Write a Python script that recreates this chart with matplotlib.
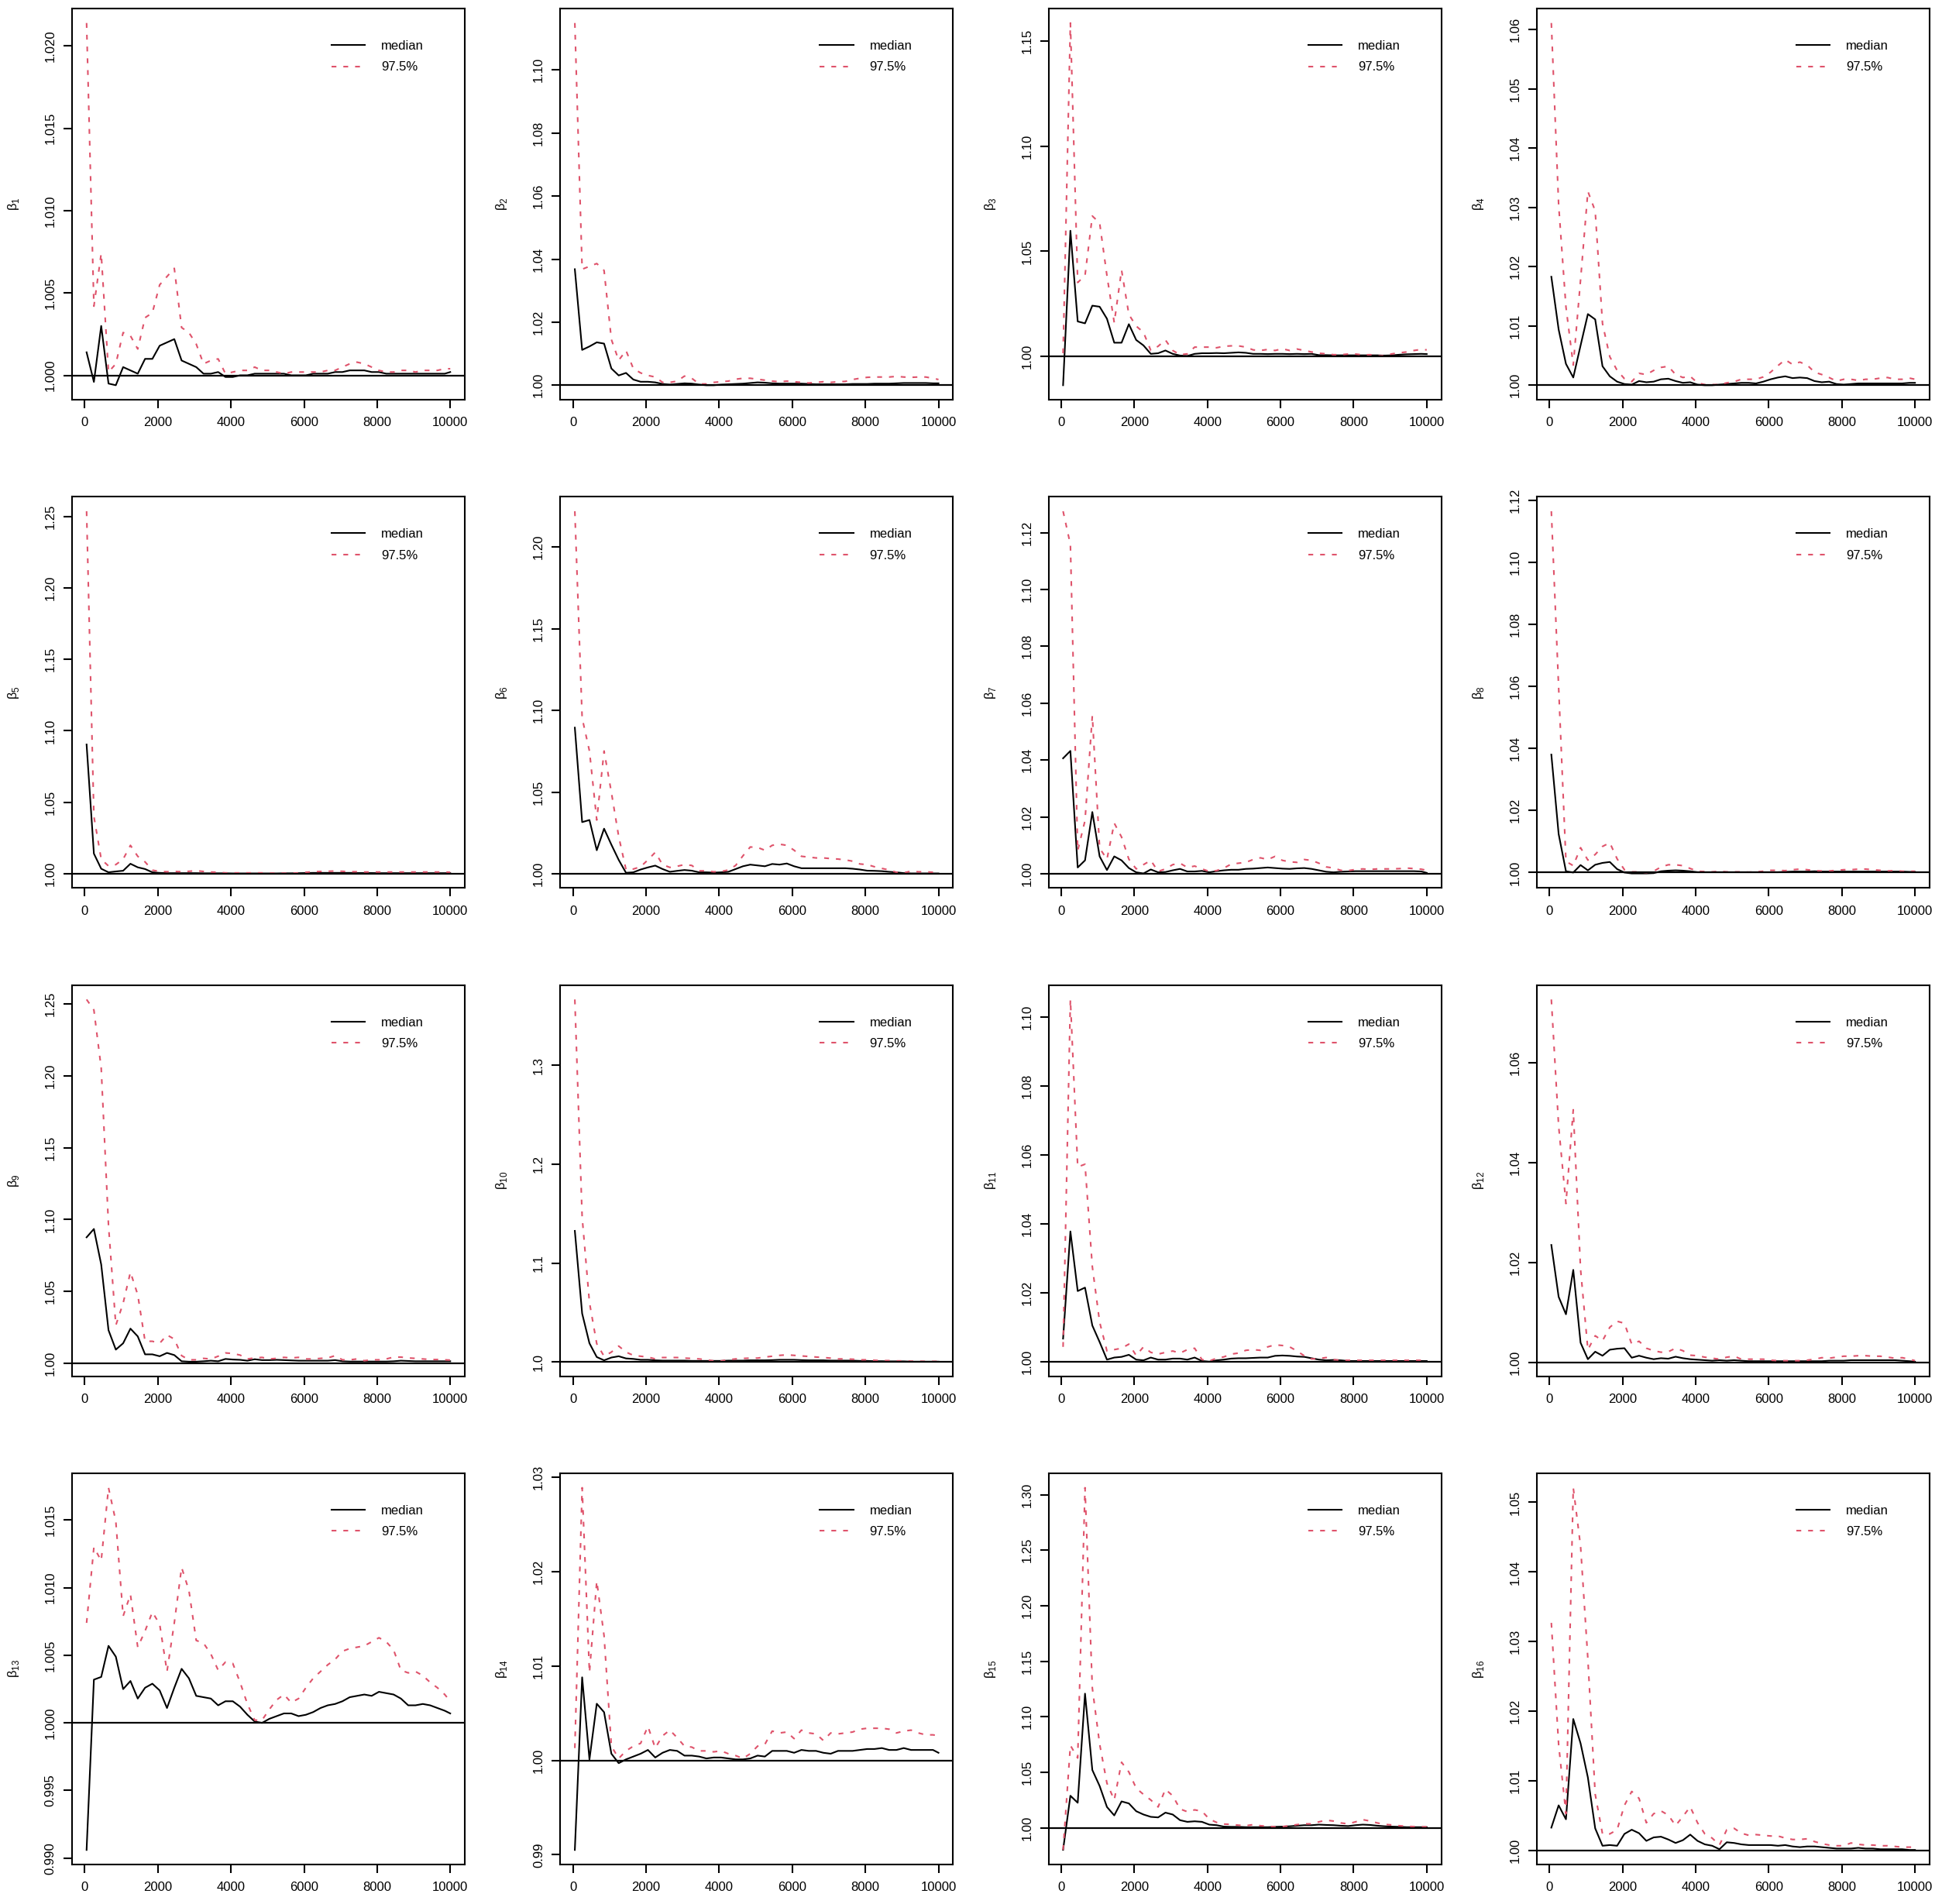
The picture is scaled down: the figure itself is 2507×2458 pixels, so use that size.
import numpy as np
import matplotlib
matplotlib.use("Agg")
import matplotlib.pyplot as plt

plt.rcParams['font.family'] = ['Liberation Sans', 'DejaVu Sans']
plt.rcParams['mathtext.fontset'] = 'custom'
plt.rcParams['mathtext.rm'] = 'Liberation Sans'

RED = "#DF536B"

# iteration grid (end of each bin)
iters = np.append(np.arange(50, 10000, 200), 10000)

# --- shrink factors: median and 97.5% per parameter ---
med_b1 = [1.0014, 0.9996, 1.0030, 0.9995, 0.9994, 1.0005, 1.0003, 1.0001, 1.0010, 1.0010,
          1.0018, 1.0020, 1.0022, 1.0009, 1.0007, 1.0005, 1.0001, 1.0001, 1.0002, 0.9999,
          0.9999, 1.0000, 1.0000, 1.0001, 1.0001, 1.0001, 1.0001, 1.0001, 1.0000, 1.0000,
          1.0000, 1.0001, 1.0001, 1.0001, 1.0002, 1.0002, 1.0003, 1.0003, 1.0003, 1.0002,
          1.0002, 1.0001, 1.0001, 1.0001, 1.0001, 1.0001, 1.0001, 1.0001, 1.0001, 1.0001, 1.0002]
q975_b1 = [1.0214, 1.0042, 1.0074, 1.0002, 1.0007, 1.0026, 1.0024, 1.0016, 1.0035, 1.0038,
           1.0055, 1.0060, 1.0065, 1.0029, 1.0026, 1.0019, 1.0007, 1.0009, 1.0010, 1.0001,
           1.0002, 1.0003, 1.0003, 1.0005, 1.0003, 1.0003, 1.0002, 1.0001, 1.0002, 1.0002,
           1.0002, 1.0002, 1.0002, 1.0003, 1.0003, 1.0005, 1.0007, 1.0008, 1.0007, 1.0005,
           1.0003, 1.0002, 1.0002, 1.0003, 1.0003, 1.0002, 1.0003, 1.0003, 1.0003, 1.0004, 1.0004]

med_b2 = [1.0368, 1.0112, 1.0123, 1.0136, 1.0132, 1.0053, 1.0031, 1.0039, 1.0018, 1.0011,
          1.0011, 1.0009, 1.0004, 1.0002, 1.0004, 1.0006, 1.0005, 1.0002, 1.0000, 1.0000,
          1.0002, 1.0003, 1.0004, 1.0005, 1.0007, 1.0009, 1.0008, 1.0006, 1.0005, 1.0005,
          1.0005, 1.0005, 1.0004, 1.0003, 1.0003, 1.0003, 1.0003, 1.0003, 1.0004, 1.0004,
          1.0004, 1.0005, 1.0005, 1.0005, 1.0006, 1.0007, 1.0007, 1.0007, 1.0007, 1.0006, 1.0006]
q975_b2 = [1.1149, 1.0368, 1.0377, 1.0386, 1.0364, 1.0145, 1.0079, 1.0110, 1.0053, 1.0039,
           1.0031, 1.0026, 1.0009, 1.0009, 1.0013, 1.0029, 1.0022, 1.0004, 1.0004, 1.0009,
           1.0011, 1.0013, 1.0019, 1.0022, 1.0022, 1.0019, 1.0016, 1.0013, 1.0011, 1.0013,
           1.0011, 1.0009, 1.0007, 1.0009, 1.0011, 1.0009, 1.0011, 1.0012, 1.0018, 1.0022,
           1.0025, 1.0026, 1.0026, 1.0026, 1.0028, 1.0026, 1.0025, 1.0026, 1.0026, 1.0022, 1.0018]

med_b3 = [0.9864, 1.0598, 1.0167, 1.0158, 1.0242, 1.0237, 1.0180, 1.0066, 1.0066, 1.0154,
          1.0079, 1.0053, 1.0013, 1.0016, 1.0029, 1.0013, 1.0005, 1.0003, 1.0013, 1.0016,
          1.0016, 1.0017, 1.0016, 1.0018, 1.0020, 1.0018, 1.0013, 1.0013, 1.0012, 1.0013,
          1.0013, 1.0012, 1.0013, 1.0012, 1.0013, 1.0007, 1.0007, 1.0006, 1.0006, 1.0006,
          1.0006, 1.0006, 1.0006, 1.0006, 1.0005, 1.0006, 1.0009, 1.0011, 1.0012, 1.0013, 1.0012]
q975_b3 = [1.0016, 1.1585, 1.0352, 1.0385, 1.0668, 1.0635, 1.0385, 1.0161, 1.0411, 1.0200,
           1.0145, 1.0115, 1.0029, 1.0049, 1.0079, 1.0029, 1.0009, 1.0013, 1.0045, 1.0045,
           1.0045, 1.0042, 1.0049, 1.0051, 1.0051, 1.0045, 1.0032, 1.0029, 1.0034, 1.0029,
           1.0037, 1.0029, 1.0036, 1.0029, 1.0022, 1.0016, 1.0013, 1.0009, 1.0009, 1.0012,
           1.0012, 1.0008, 1.0009, 1.0003, 1.0005, 1.0013, 1.0018, 1.0022, 1.0029, 1.0034, 1.0032]

med_b4 = [1.0183, 1.0094, 1.0036, 1.0013, 1.0067, 1.0120, 1.0111, 1.0032, 1.0015, 1.0006,
          1.0002, 1.0001, 1.0007, 1.0005, 1.0006, 1.0010, 1.0011, 1.0007, 1.0004, 1.0005,
          1.0001, 1.0000, 1.0000, 1.0001, 1.0002, 1.0003, 1.0004, 1.0004, 1.0003, 1.0006,
          1.0010, 1.0013, 1.0015, 1.0012, 1.0013, 1.0012, 1.0007, 1.0005, 1.0006, 1.0002,
          1.0001, 1.0002, 1.0003, 1.0003, 1.0003, 1.0003, 1.0003, 1.0003, 1.0003, 1.0004, 1.0004]
q975_b4 = [1.0611, 1.0304, 1.0132, 1.0034, 1.0178, 1.0327, 1.0294, 1.0104, 1.0048, 1.0025,
           1.0011, 1.0006, 1.0020, 1.0018, 1.0025, 1.0030, 1.0032, 1.0018, 1.0013, 1.0015,
           1.0004, 1.0001, 1.0001, 1.0001, 1.0004, 1.0006, 1.0010, 1.0010, 1.0010, 1.0014,
           1.0022, 1.0033, 1.0043, 1.0035, 1.0039, 1.0034, 1.0022, 1.0018, 1.0013, 1.0007,
           1.0010, 1.0010, 1.0008, 1.0010, 1.0010, 1.0012, 1.0013, 1.0010, 1.0010, 1.0012, 1.0010]

med_b5 = [1.0904, 1.0139, 1.0033, 1.0008, 1.0014, 1.0019, 1.0068, 1.0043, 1.0031, 1.0008,
          1.0004, 1.0002, 1.0002, 1.0002, 1.0002, 1.0002, 1.0001, 1.0001, 1.0001, 1.0001,
          1.0000, 1.0000, 1.0000, 1.0000, 1.0000, 1.0000, 1.0000, 1.0001, 1.0001, 1.0002,
          1.0003, 1.0004, 1.0004, 1.0004, 1.0004, 1.0004, 1.0004, 1.0003, 1.0003, 1.0003,
          1.0002, 1.0002, 1.0002, 1.0002, 1.0002, 1.0002, 1.0002, 1.0002, 1.0002, 1.0002, 1.0002]
q975_b5 = [1.2539, 1.0400, 1.0100, 1.0052, 1.0062, 1.0100, 1.0197, 1.0120, 1.0081, 1.0023,
           1.0014, 1.0012, 1.0014, 1.0012, 1.0015, 1.0019, 1.0014, 1.0010, 1.0008, 1.0004,
           1.0004, 1.0004, 1.0004, 1.0004, 1.0004, 1.0002, 1.0002, 1.0002, 1.0002, 1.0004,
           1.0008, 1.0012, 1.0014, 1.0015, 1.0017, 1.0015, 1.0012, 1.0012, 1.0010, 1.0010,
           1.0010, 1.0010, 1.0010, 1.0010, 1.0010, 1.0010, 1.0010, 1.0010, 1.0010, 1.0010, 1.0008]

med_b6 = [1.0895, 1.0317, 1.0330, 1.0145, 1.0277, 1.0179, 1.0086, 1.0007, 1.0010, 1.0027,
          1.0040, 1.0051, 1.0030, 1.0013, 1.0019, 1.0024, 1.0020, 1.0010, 1.0010, 1.0008,
          1.0010, 1.0013, 1.0030, 1.0047, 1.0057, 1.0052, 1.0047, 1.0061, 1.0057, 1.0064,
          1.0047, 1.0035, 1.0035, 1.0035, 1.0035, 1.0035, 1.0035, 1.0035, 1.0032, 1.0027,
          1.0020, 1.0019, 1.0017, 1.0013, 1.0010, 1.0005, 1.0003, 1.0003, 1.0003, 1.0003, 1.0003]
q975_b6 = [1.2219, 1.0954, 1.0752, 1.0330, 1.0752, 1.0499, 1.0229, 1.0027, 1.0030, 1.0044,
           1.0086, 1.0132, 1.0057, 1.0040, 1.0047, 1.0057, 1.0052, 1.0019, 1.0019, 1.0013,
           1.0015, 1.0024, 1.0052, 1.0111, 1.0165, 1.0162, 1.0145, 1.0175, 1.0182, 1.0175,
           1.0145, 1.0108, 1.0103, 1.0098, 1.0098, 1.0094, 1.0091, 1.0086, 1.0078, 1.0061,
           1.0057, 1.0044, 1.0034, 1.0024, 1.0010, 1.0007, 1.0017, 1.0013, 1.0013, 1.0010, 1.0007]

med_b7 = [1.0406, 1.0432, 1.0022, 1.0047, 1.0217, 1.0061, 1.0013, 1.0061, 1.0047, 1.0020,
          1.0005, 1.0001, 1.0015, 1.0005, 1.0006, 1.0012, 1.0017, 1.0008, 1.0008, 1.0010,
          1.0005, 1.0009, 1.0012, 1.0014, 1.0014, 1.0017, 1.0018, 1.0020, 1.0022, 1.0020,
          1.0018, 1.0017, 1.0019, 1.0020, 1.0017, 1.0012, 1.0007, 1.0005, 1.0007, 1.0008,
          1.0009, 1.0009, 1.0009, 1.0009, 1.0009, 1.0009, 1.0009, 1.0009, 1.0009, 1.0008, 1.0003]
q975_b7 = [1.1275, 1.1158, 1.0081, 1.0187, 1.0556, 1.0090, 1.0051, 1.0178, 1.0129, 1.0051,
           1.0017, 1.0032, 1.0047, 1.0008, 1.0017, 1.0032, 1.0037, 1.0022, 1.0027, 1.0017,
           1.0008, 1.0011, 1.0020, 1.0034, 1.0037, 1.0040, 1.0050, 1.0056, 1.0050, 1.0061,
           1.0047, 1.0042, 1.0040, 1.0050, 1.0047, 1.0037, 1.0024, 1.0020, 1.0012, 1.0011,
           1.0015, 1.0017, 1.0015, 1.0017, 1.0017, 1.0017, 1.0018, 1.0020, 1.0018, 1.0016, 1.0012]

med_b8 = [1.0380, 1.0124, 1.0004, 1.0000, 1.0024, 1.0007, 1.0025, 1.0031, 1.0034, 1.0011,
          1.0000, 0.9997, 0.9997, 0.9997, 0.9998, 1.0004, 1.0006, 1.0007, 1.0006, 1.0004,
          1.0001, 1.0001, 1.0001, 1.0001, 1.0001, 1.0001, 1.0001, 1.0001, 1.0001, 1.0001,
          1.0001, 1.0001, 1.0002, 1.0003, 1.0003, 1.0003, 1.0004, 1.0003, 1.0003, 1.0003,
          1.0003, 1.0003, 1.0003, 1.0003, 1.0003, 1.0003, 1.0003, 1.0003, 1.0003, 1.0002, 1.0002]
q975_b8 = [1.1164, 1.0596, 1.0036, 1.0022, 1.0080, 1.0040, 1.0058, 1.0084, 1.0096, 1.0044,
           1.0009, 1.0002, 1.0002, 1.0000, 1.0004, 1.0018, 1.0025, 1.0025, 1.0022, 1.0013,
           1.0004, 1.0003, 1.0002, 1.0004, 1.0002, 1.0002, 1.0002, 1.0001, 1.0002, 1.0004,
           1.0007, 1.0007, 1.0006, 1.0009, 1.0011, 1.0009, 1.0006, 1.0005, 1.0005, 1.0007,
           1.0009, 1.0009, 1.0011, 1.0011, 1.0009, 1.0007, 1.0005, 1.0006, 1.0004, 1.0004, 1.0004]

med_b9 = [1.0877, 1.0935, 1.0688, 1.0231, 1.0096, 1.0140, 1.0242, 1.0188, 1.0063, 1.0063,
          1.0050, 1.0073, 1.0058, 1.0015, 1.0012, 1.0012, 1.0015, 1.0019, 1.0015, 1.0031,
          1.0027, 1.0025, 1.0019, 1.0029, 1.0023, 1.0023, 1.0025, 1.0023, 1.0021, 1.0019,
          1.0019, 1.0019, 1.0019, 1.0019, 1.0023, 1.0015, 1.0013, 1.0013, 1.0013, 1.0013,
          1.0013, 1.0013, 1.0015, 1.0019, 1.0017, 1.0015, 1.0015, 1.0015, 1.0015, 1.0015, 1.0015]
q975_b9 = [1.2531, 1.2458, 1.2054, 1.0958, 1.0265, 1.0419, 1.0635, 1.0477, 1.0154, 1.0154,
           1.0140, 1.0198, 1.0169, 1.0054, 1.0025, 1.0025, 1.0035, 1.0031, 1.0050, 1.0073,
           1.0069, 1.0058, 1.0031, 1.0038, 1.0042, 1.0031, 1.0035, 1.0042, 1.0038, 1.0042,
           1.0031, 1.0031, 1.0035, 1.0038, 1.0054, 1.0025, 1.0025, 1.0031, 1.0019, 1.0025,
           1.0025, 1.0031, 1.0044, 1.0044, 1.0038, 1.0035, 1.0031, 1.0027, 1.0027, 1.0025, 1.0023]

med_b10 = [1.1325, 1.0490, 1.0189, 1.0050, 1.0017, 1.0045, 1.0058, 1.0036, 1.0031, 1.0022,
           1.0022, 1.0017, 1.0014, 1.0014, 1.0014, 1.0014, 1.0011, 1.0011, 1.0011, 1.0011,
           1.0011, 1.0014, 1.0014, 1.0014, 1.0017, 1.0017, 1.0017, 1.0019, 1.0022, 1.0022,
           1.0022, 1.0019, 1.0017, 1.0017, 1.0017, 1.0014, 1.0014, 1.0014, 1.0014, 1.0011,
           1.0011, 1.0008, 1.0008, 1.0006, 1.0006, 1.0006, 1.0003, 1.0003, 1.0003, 1.0003, 1.0003]
q975_b10 = [1.3663, 1.1464, 1.0601, 1.0184, 1.0058, 1.0100, 1.0161, 1.0100, 1.0067, 1.0058,
            1.0050, 1.0031, 1.0045, 1.0045, 1.0045, 1.0039, 1.0036, 1.0031, 1.0022, 1.0011,
            1.0011, 1.0022, 1.0031, 1.0036, 1.0039, 1.0039, 1.0050, 1.0058, 1.0067, 1.0072,
            1.0067, 1.0061, 1.0056, 1.0050, 1.0045, 1.0039, 1.0031, 1.0031, 1.0028, 1.0022,
            1.0022, 1.0017, 1.0014, 1.0014, 1.0011, 1.0011, 1.0008, 1.0008, 1.0006, 1.0006, 1.0006]

med_b11 = [1.0067, 1.0378, 1.0205, 1.0215, 1.0105, 1.0057, 1.0006, 1.0012, 1.0014, 1.0020,
           1.0006, 1.0004, 1.0012, 1.0006, 1.0006, 1.0009, 1.0009, 1.0006, 1.0012, 1.0002,
           1.0000, 1.0004, 1.0006, 1.0009, 1.0010, 1.0010, 1.0011, 1.0012, 1.0012, 1.0017,
           1.0018, 1.0017, 1.0015, 1.0014, 1.0010, 1.0006, 1.0004, 1.0005, 1.0004, 1.0002,
           1.0002, 1.0002, 1.0002, 1.0002, 1.0002, 1.0002, 1.0002, 1.0002, 1.0002, 1.0002, 1.0002]
q975_b11 = [1.0043, 1.1051, 1.0565, 1.0573, 1.0276, 1.0115, 1.0031, 1.0035, 1.0039, 1.0051,
            1.0018, 1.0043, 1.0027, 1.0022, 1.0027, 1.0031, 1.0025, 1.0035, 1.0039, 1.0006,
            1.0002, 1.0010, 1.0014, 1.0022, 1.0025, 1.0033, 1.0035, 1.0033, 1.0043, 1.0049,
            1.0047, 1.0043, 1.0031, 1.0017, 1.0008, 1.0009, 1.0012, 1.0006, 1.0004, 1.0004,
            1.0004, 1.0004, 1.0004, 1.0004, 1.0004, 1.0004, 1.0004, 1.0004, 1.0004, 1.0004, 1.0003]

med_b12 = [1.0235, 1.0131, 1.0096, 1.0185, 1.0039, 1.0006, 1.0021, 1.0013, 1.0025, 1.0027,
           1.0028, 1.0009, 1.0013, 1.0009, 1.0006, 1.0008, 1.0007, 1.0011, 1.0008, 1.0006,
           1.0005, 1.0004, 1.0003, 1.0004, 1.0003, 1.0004, 1.0003, 1.0002, 1.0002, 1.0002,
           1.0002, 1.0002, 1.0002, 1.0002, 1.0002, 1.0002, 1.0002, 1.0002, 1.0003, 1.0003,
           1.0003, 1.0004, 1.0004, 1.0004, 1.0004, 1.0004, 1.0004, 1.0004, 1.0003, 1.0002, 1.0001]
q975_b12 = [1.0727, 1.0473, 1.0318, 1.0506, 1.0186, 1.0025, 1.0053, 1.0043, 1.0070, 1.0082,
            1.0078, 1.0036, 1.0042, 1.0028, 1.0023, 1.0020, 1.0021, 1.0028, 1.0023, 1.0014,
            1.0013, 1.0010, 1.0008, 1.0006, 1.0010, 1.0012, 1.0006, 1.0006, 1.0006, 1.0006,
            1.0004, 1.0003, 1.0003, 1.0003, 1.0003, 1.0004, 1.0006, 1.0009, 1.0008, 1.0010,
            1.0012, 1.0012, 1.0013, 1.0013, 1.0012, 1.0012, 1.0010, 1.0008, 1.0009, 1.0006, 1.0003]

med_b13 = [0.9906, 1.0032, 1.0034, 1.0057, 1.0049, 1.0025, 1.0031, 1.0018, 1.0026, 1.0029,
           1.0024, 1.0011, 1.0026, 1.0040, 1.0033, 1.0020, 1.0019, 1.0018, 1.0013, 1.0016,
           1.0016, 1.0012, 1.0006, 1.0001, 1.0000, 1.0003, 1.0005, 1.0007, 1.0007, 1.0005,
           1.0006, 1.0008, 1.0011, 1.0013, 1.0014, 1.0016, 1.0019, 1.0020, 1.0021, 1.0020,
           1.0023, 1.0022, 1.0021, 1.0018, 1.0013, 1.0013, 1.0014, 1.0013, 1.0011, 1.0009, 1.0007]
q975_b13 = [1.0074, 1.0130, 1.0120, 1.0174, 1.0149, 1.0079, 1.0095, 1.0056, 1.0068, 1.0082,
            1.0073, 1.0038, 1.0074, 1.0115, 1.0098, 1.0061, 1.0059, 1.0051, 1.0039, 1.0045,
            1.0044, 1.0030, 1.0014, 1.0002, 1.0002, 1.0010, 1.0017, 1.0021, 1.0015, 1.0018,
            1.0026, 1.0033, 1.0038, 1.0043, 1.0047, 1.0053, 1.0055, 1.0056, 1.0057, 1.0060,
            1.0063, 1.0060, 1.0054, 1.0039, 1.0037, 1.0038, 1.0035, 1.0030, 1.0026, 1.0021, 1.0016]

med_b14 = [0.9905, 1.0088, 1.0001, 1.0060, 1.0051, 1.0007, 0.9997, 1.0001, 1.0004, 1.0007,
           1.0011, 1.0003, 1.0008, 1.0011, 1.0010, 1.0005, 1.0005, 1.0004, 1.0002, 1.0003,
           1.0003, 1.0002, 1.0001, 1.0001, 1.0002, 1.0005, 1.0004, 1.0010, 1.0010, 1.0010,
           1.0008, 1.0011, 1.0010, 1.0010, 1.0008, 1.0007, 1.0010, 1.0010, 1.0010, 1.0011,
           1.0012, 1.0012, 1.0013, 1.0011, 1.0011, 1.0013, 1.0011, 1.0011, 1.0011, 1.0011, 1.0008]
q975_b14 = [1.0013, 1.0289, 1.0093, 1.0190, 1.0132, 1.0015, 1.0002, 1.0010, 1.0015, 1.0018,
            1.0036, 1.0013, 1.0026, 1.0032, 1.0024, 1.0015, 1.0014, 1.0010, 1.0010, 1.0009,
            1.0010, 1.0007, 1.0005, 1.0002, 1.0007, 1.0015, 1.0017, 1.0031, 1.0029, 1.0030,
            1.0023, 1.0032, 1.0029, 1.0028, 1.0021, 1.0029, 1.0028, 1.0029, 1.0030, 1.0033,
            1.0034, 1.0034, 1.0034, 1.0033, 1.0029, 1.0031, 1.0032, 1.0029, 1.0027, 1.0027, 1.0026]

med_b15 = [0.9801, 1.0288, 1.0225, 1.1208, 1.0520, 1.0376, 1.0187, 1.0111, 1.0237, 1.0219,
           1.0149, 1.0119, 1.0098, 1.0093, 1.0136, 1.0119, 1.0068, 1.0053, 1.0058, 1.0053,
           1.0028, 1.0023, 1.0010, 1.0008, 1.0008, 1.0005, 1.0005, 1.0005, 1.0005, 1.0008,
           1.0010, 1.0013, 1.0018, 1.0023, 1.0023, 1.0028, 1.0025, 1.0023, 1.0018, 1.0015,
           1.0023, 1.0028, 1.0025, 1.0018, 1.0013, 1.0010, 1.0008, 1.0005, 1.0005, 1.0005, 1.0005]
q975_b15 = [0.9800, 1.0742, 1.0628, 1.3063, 1.1259, 1.0754, 1.0401, 1.0250, 1.0590, 1.0502,
            1.0356, 1.0300, 1.0250, 1.0187, 1.0346, 1.0288, 1.0169, 1.0144, 1.0161, 1.0149,
            1.0078, 1.0048, 1.0033, 1.0030, 1.0023, 1.0018, 1.0028, 1.0018, 1.0013, 1.0008,
            1.0010, 1.0018, 1.0028, 1.0035, 1.0035, 1.0053, 1.0068, 1.0060, 1.0043, 1.0035,
            1.0053, 1.0073, 1.0060, 1.0043, 1.0030, 1.0025, 1.0018, 1.0013, 1.0010, 1.0008, 1.0008]

med_b16 = [1.0033, 1.0065, 1.0045, 1.0189, 1.0154, 1.0105, 1.0032, 1.0007, 1.0008, 1.0007,
           1.0024, 1.0030, 1.0025, 1.0014, 1.0019, 1.0020, 1.0016, 1.0011, 1.0015, 1.0023,
           1.0014, 1.0009, 1.0007, 1.0002, 1.0012, 1.0011, 1.0009, 1.0008, 1.0008, 1.0008,
           1.0008, 1.0007, 1.0008, 1.0006, 1.0005, 1.0006, 1.0006, 1.0005, 1.0004, 1.0003,
           1.0003, 1.0003, 1.0004, 1.0003, 1.0003, 1.0002, 1.0002, 1.0002, 1.0002, 1.0001, 1.0001]
q975_b16 = [1.0327, 1.0152, 1.0053, 1.0521, 1.0437, 1.0275, 1.0081, 1.0024, 1.0024, 1.0030,
            1.0065, 1.0085, 1.0075, 1.0040, 1.0053, 1.0057, 1.0051, 1.0036, 1.0049, 1.0063,
            1.0040, 1.0024, 1.0018, 1.0008, 1.0030, 1.0032, 1.0025, 1.0022, 1.0023, 1.0022,
            1.0021, 1.0021, 1.0018, 1.0016, 1.0016, 1.0017, 1.0013, 1.0010, 1.0008, 1.0007,
            1.0007, 1.0011, 1.0009, 1.0008, 1.0008, 1.0007, 1.0007, 1.0006, 1.0005, 1.0005, 1.0005]

# y tick positions shown on each panel
yticks_b1 = [1.000, 1.005, 1.010, 1.015, 1.020]
yticks_b2 = [1.00, 1.02, 1.04, 1.06, 1.08, 1.10]
yticks_b3 = [1.00, 1.05, 1.10, 1.15]
yticks_b4 = [1.00, 1.01, 1.02, 1.03, 1.04, 1.05, 1.06]
yticks_b5 = [1.00, 1.05, 1.10, 1.15, 1.20, 1.25]
yticks_b6 = [1.00, 1.05, 1.10, 1.15, 1.20]
yticks_b7 = [1.00, 1.02, 1.04, 1.06, 1.08, 1.10, 1.12]
yticks_b8 = [1.00, 1.02, 1.04, 1.06, 1.08, 1.10, 1.12]
yticks_b9 = [1.00, 1.05, 1.10, 1.15, 1.20, 1.25]
yticks_b10 = [1.0, 1.1, 1.2, 1.3]
yticks_b11 = [1.00, 1.02, 1.04, 1.06, 1.08, 1.10]
yticks_b12 = [1.00, 1.02, 1.04, 1.06]
yticks_b13 = [0.990, 0.995, 1.000, 1.005, 1.010, 1.015]
yticks_b14 = [0.99, 1.00, 1.01, 1.02, 1.03]
yticks_b15 = [1.00, 1.05, 1.10, 1.15, 1.20, 1.25, 1.30]
yticks_b16 = [1.00, 1.01, 1.02, 1.03, 1.04, 1.05]

# (median, upper, y ticks, decimals in tick labels)
panels = [
    (med_b1, q975_b1, yticks_b1, 3), (med_b2, q975_b2, yticks_b2, 2),
    (med_b3, q975_b3, yticks_b3, 2), (med_b4, q975_b4, yticks_b4, 2),
    (med_b5, q975_b5, yticks_b5, 2), (med_b6, q975_b6, yticks_b6, 2),
    (med_b7, q975_b7, yticks_b7, 2), (med_b8, q975_b8, yticks_b8, 2),
    (med_b9, q975_b9, yticks_b9, 2), (med_b10, q975_b10, yticks_b10, 1),
    (med_b11, q975_b11, yticks_b11, 2), (med_b12, q975_b12, yticks_b12, 2),
    (med_b13, q975_b13, yticks_b13, 3), (med_b14, q975_b14, yticks_b14, 2),
    (med_b15, q975_b15, yticks_b15, 2), (med_b16, q975_b16, yticks_b16, 2),
]

W, H = 2507, 2458
fig = plt.figure(figsize=(W / 100, H / 100), dpi=100)

step = 630.3
pw, ph = 507, 505

for i, (med, upr, ticks, nd) in enumerate(panels):
    r, c = divmod(i, 4)
    left = 93 + step * c
    top = 11 + step * r
    ax = fig.add_axes([left / W, 1 - (top + ph) / H, pw / W, ph / H])

    l1, = ax.plot(iters, med, color='black', lw=1.5)
    l2, = ax.plot(iters, upr, color=RED, lw=1.5, dashes=(3, 4.3))
    ax.axhline(1, color='black', lw=1.6)

    # R style: 4% expansion of the data range
    lo = min(min(med), min(upr))
    hi = max(max(med), max(upr))
    pad = 0.04 * (hi - lo)
    ax.set_ylim(lo - pad, hi + pad)
    xpad = 0.04 * (iters[-1] - iters[0])
    ax.set_xlim(iters[0] - xpad, iters[-1] + xpad)

    ax.set_xticks(range(0, 10001, 2000))
    ax.set_yticks(ticks)
    ax.set_yticklabels([f"{t:.{nd}f}" for t in ticks], rotation=90, va='center')
    ax.tick_params(direction='out', length=8, width=1.5, labelsize=12)
    ax.tick_params(axis='x', pad=8)
    ax.tick_params(axis='y', pad=6.5)
    for s in ax.spines.values():
        s.set_linewidth(1.5)

    ax.set_ylabel(rf'$\mathrm{{\beta}}_{{{i + 1}}}$', fontsize=12)
    ax.yaxis.set_label_coords(-0.13, 0.5)

    ax.legend([l1, l2], ['median', '97.5%'], loc='upper left',
              bbox_to_anchor=(0.661, 0.919), frameon=False, fontsize=12,
              handlelength=2.6, handletextpad=1.25, labelspacing=0.75,
              borderpad=0, borderaxespad=0)

fig.savefig('out.png', dpi=100)
